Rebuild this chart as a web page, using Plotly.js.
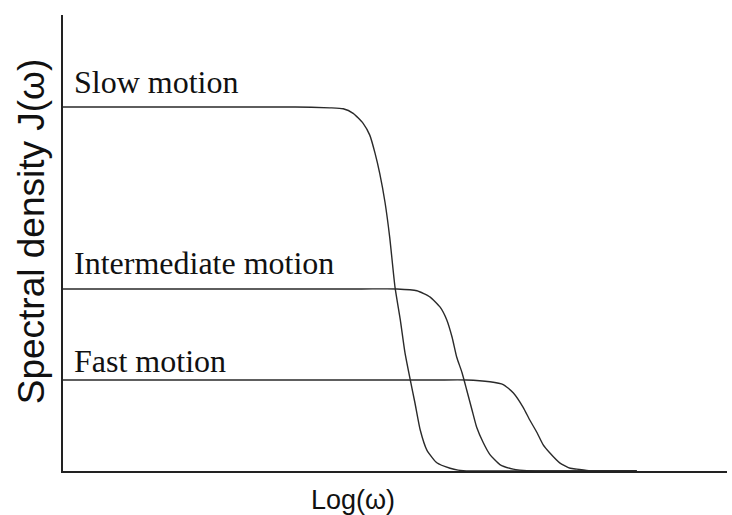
<!DOCTYPE html>
<html>
<head>
<meta charset="utf-8">
<script src="https://cdn.plot.ly/plotly-3.0.1.min.js"></script>
<style>html,body{margin:0;padding:0;background:#fff;}#chart{width:732px;height:515px;}</style>
</head>
<body>
<div id="chart"></div>
<script>
// Data (arbitrary units: x = log(omega), y = J(omega))
const seriesNames = ["Slow motion", "Intermediate motion", "Fast motion"];

const slowX = [0, 3.5, 4.02, 4.22, 4.37, 4.52, 4.62, 4.70, 4.77, 4.85, 4.92, 5.00, 5.08, 5.15, 5.23, 5.30, 5.38, 5.48, 5.63, 5.83, 5.95, 6.13, 6.6, 8.64];
const slowY = [4.0, 4.0, 3.99, 3.98, 3.93, 3.82, 3.69, 3.49, 3.27, 2.95, 2.57, 2.02, 1.66, 1.30, 1.00, 0.75, 0.45, 0.23, 0.09, 0.03, 0.01, 0, 0, 0];

const interX = [0, 4.5, 5.03, 5.33, 5.53, 5.68, 5.78, 5.86, 5.93, 6.01, 6.08, 6.16, 6.23, 6.33, 6.43, 6.58, 6.78, 6.88, 7.11, 7.5, 8.64];
const interY = [2.0, 2.0, 2.0, 1.98, 1.91, 1.80, 1.66, 1.47, 1.25, 1.08, 0.89, 0.67, 0.48, 0.31, 0.18, 0.07, 0.02, 0.01, 0, 0, 0];

const fastX = [0, 5.6, 6.08, 6.43, 6.63, 6.78, 6.93, 7.03, 7.14, 7.23, 7.33, 7.48, 7.64, 7.74, 7.94, 8.2, 8.64];
const fastY = [1.0, 1.0, 1.0, 0.98, 0.95, 0.86, 0.70, 0.56, 0.42, 0.29, 0.20, 0.09, 0.03, 0.02, 0, 0, 0];

const plateauY = [4.0, 2.0, 1.0];
const labelShift = [5, 6, -1];

const xTitle = "Log(ω)";
const yTitle = "Spectral density J(ω)";

const lineStyle = {color: "#2a2a2a", width: 1.4, shape: "spline", smoothing: 0.5};
const allX = [slowX, interX, fastX];
const allY = [slowY, interY, fastY];

const traces = allX.map((xs, i) => ({
  x: xs, y: allY[i], type: "scatter", mode: "lines",
  name: seriesNames[i], line: lineStyle, hoverinfo: "skip"
}));

const annotations = seriesNames.map((n, i) => ({
  text: n, x: 0, y: plateauY[i], xref: "x", yref: "y",
  xanchor: "left", yanchor: "bottom", xshift: 9, yshift: labelShift[i],
  showarrow: false,
  font: {family: "Liberation Serif, Times New Roman, serif", size: 32, color: "#111"}
}));

annotations.push({
  text: yTitle, xref: "paper", yref: "paper", x: -0.048, y: 0.526,
  xanchor: "center", yanchor: "middle", textangle: -90, showarrow: false,
  font: {family: "Liberation Sans, Arial, sans-serif", size: 37, color: "#111"}
});
annotations.push({
  text: xTitle, xref: "paper", yref: "paper", x: 0.437, y: -0.064,
  xanchor: "center", yanchor: "middle", showarrow: false,
  font: {family: "Liberation Sans, Arial, sans-serif", size: 27, color: "#111"}
});

const layout = {
  width: 732, height: 515,
  margin: {l: 63, r: 5, t: 15, b: 44, pad: 0},
  paper_bgcolor: "#ffffff", plot_bgcolor: "#ffffff",
  showlegend: false,
  xaxis: {range: [0, 10], showline: true, linecolor: "#222", linewidth: 2,
          showgrid: false, zeroline: false, showticklabels: false, ticks: ""},
  yaxis: {range: [0, 5.01], showline: true, linecolor: "#222", linewidth: 2,
          showgrid: false, zeroline: false, showticklabels: false, ticks: ""},
  annotations: annotations
};

Plotly.newPlot("chart", traces, layout, {staticPlot: true, displayModeBar: false});
</script>
</body>
</html>
